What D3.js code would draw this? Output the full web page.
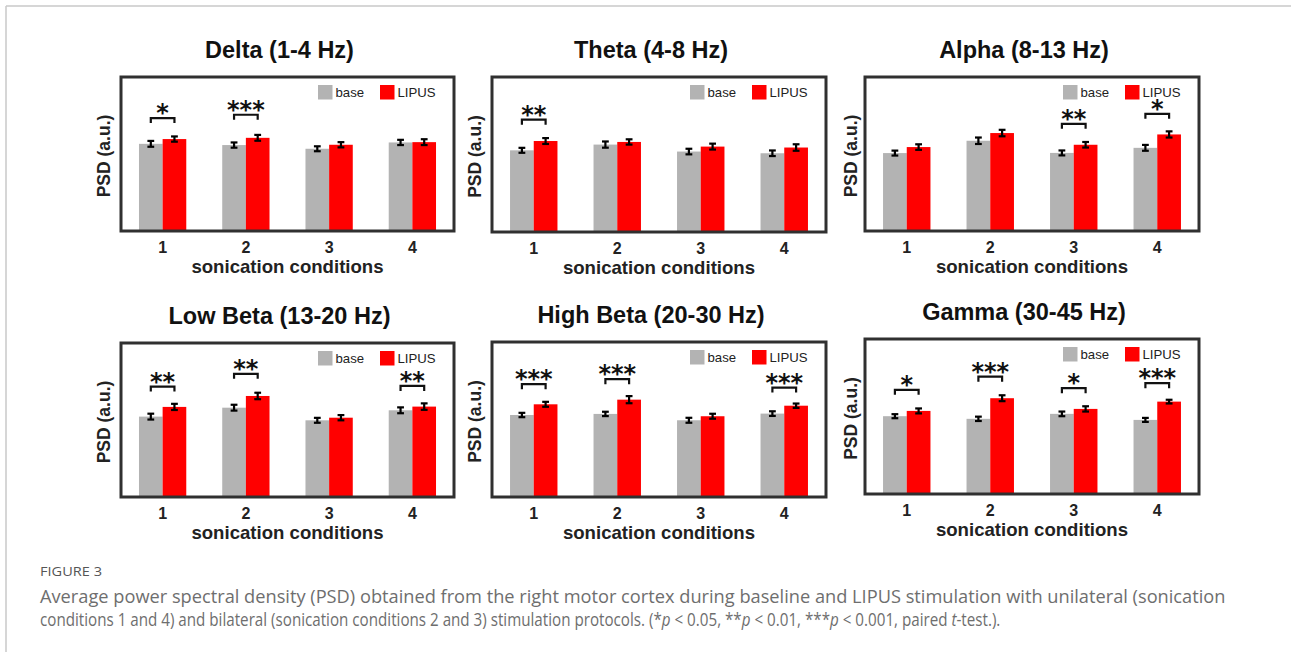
<!DOCTYPE html>
<html>
<head>
<meta charset="utf-8">
<script src="https://cdn.jsdelivr.net/npm/d3@7"></script>
<style>
  html, body { margin: 0; padding: 0; background: #fff; }
  svg { display: block; }
</style>
</head>
<body>
<svg id="fig" width="1291" height="652"></svg>
<script>
// ---- data -------------------------------------------------------------
const conditions = ["1", "2", "3", "4"];
const seriesNames = ["base", "LIPUS"];
const bandTitles = ["Delta (1-4 Hz)", "Theta (4-8 Hz)", "Alpha (8-13 Hz)",
                    "Low Beta (13-20 Hz)", "High Beta (20-30 Hz)", "Gamma (30-45 Hz)"];

// mean PSD (a.u.) per sonication condition
const baseMean = [
  [0.566, 0.558, 0.534, 0.575],
  [0.527, 0.564, 0.519, 0.508],
  [0.506, 0.586, 0.507, 0.540],
  [0.522, 0.580, 0.498, 0.563],
  [0.529, 0.536, 0.495, 0.538],
  [0.502, 0.485, 0.517, 0.478]
];
const lipusMean = [
  [0.597, 0.605, 0.560, 0.577],
  [0.587, 0.581, 0.551, 0.545],
  [0.545, 0.636, 0.560, 0.627],
  [0.585, 0.656, 0.515, 0.587],
  [0.598, 0.628, 0.521, 0.589],
  [0.536, 0.618, 0.549, 0.596]
];
// standard error of the mean
const baseErr = [
  [0.019, 0.017, 0.016, 0.017],
  [0.016, 0.020, 0.018, 0.018],
  [0.016, 0.021, 0.016, 0.019],
  [0.019, 0.019, 0.016, 0.019],
  [0.014, 0.014, 0.016, 0.015],
  [0.013, 0.014, 0.015, 0.013]
];
const lipusErr = [
  [0.017, 0.019, 0.017, 0.019],
  [0.019, 0.017, 0.019, 0.021],
  [0.018, 0.021, 0.018, 0.020],
  [0.020, 0.021, 0.017, 0.021],
  [0.016, 0.023, 0.016, 0.014],
  [0.016, 0.019, 0.017, 0.012]
];
// paired t-test significance marks and the level of their brackets (a.u.)
const sigMarks = [
  ["*", "***", "", ""],
  ["**", "", "", ""],
  ["", "", "**", "*"],
  ["**", "**", "", "**"],
  ["***", "***", "", "***"],
  ["*", "***", "*", "***"]
];
const sigLevel = [
  [0.733, 0.755, 0, 0],
  [0.725, 0, 0, 0],
  [0, 0, 0.696, 0.761],
  [0.717, 0.800, 0, 0.721],
  [0.728, 0.760, 0, 0.706],
  [0.672, 0.757, 0.683, 0.715]
];
const yDomain = [0, 1];
const xLabel = "sonication conditions";
const yLabel = "PSD (a.u.)";

// ---- layout ------------------------------------------------------------
const panels = [
  { x0: 121, x1: 454, y0: 77,  y1: 231, ylab: 110 },
  { x0: 492, x1: 826, y0: 77,  y1: 232, ylab: 481 },
  { x0: 865, x1: 1199, y0: 77, y1: 231, ylab: 857 },
  { x0: 121, x1: 454, y0: 343, y1: 497, ylab: 110 },
  { x0: 492, x1: 826, y0: 342, y1: 497, ylab: 481 },
  { x0: 865, x1: 1199, y0: 339, y1: 494, ylab: 857 }
];
const colors = { base: "#b3b3b3", LIPUS: "#ff0000" };
const boldFont = "'Liberation Sans', Arial, Helvetica, sans-serif";
const starFont = "'DejaVu Sans', sans-serif";
const ink = "#222";

const svg = d3.select("#fig");

// page frame
svg.append("line").attr("x1", 6).attr("y1", 6).attr("x2", 1291).attr("y2", 6)
  .attr("stroke", "#c8c8c8").attr("stroke-width", 1.5);
svg.append("line").attr("x1", 6).attr("y1", 6).attr("x2", 6).attr("y2", 652)
  .attr("stroke", "#c8c8c8").attr("stroke-width", 1.5);

panels.forEach((p, i) => {
  const g = svg.append("g");
  const x = d3.scaleBand().domain(conditions).range([p.x0, p.x1])
    .paddingInner(0.432).paddingOuter(0.216);
  const xs = d3.scaleBand().domain(seriesNames).range([0, x.bandwidth()]);
  const y = d3.scaleLinear().domain(yDomain).range([p.y1, p.y0]);

  const rows = conditions.map((c, j) => ({
    cond: c,
    vals: [
      { s: "base", m: baseMean[i][j], e: baseErr[i][j] },
      { s: "LIPUS", m: lipusMean[i][j], e: lipusErr[i][j] }
    ],
    mark: sigMarks[i][j],
    level: sigLevel[i][j]
  }));

  // bars
  const grp = g.selectAll("g.grp").data(rows).join("g")
    .attr("transform", d => `translate(${x(d.cond)},0)`);
  grp.selectAll("rect").data(d => d.vals).join("rect")
    .attr("x", d => xs(d.s))
    .attr("y", d => y(d.m))
    .attr("width", xs.bandwidth())
    .attr("height", d => y(yDomain[0]) - y(d.m))
    .attr("fill", d => colors[d.s]);

  // error bars
  const cap = 3.4;
  const eb = grp.selectAll("g.eb").data(d => d.vals).join("g")
    .attr("stroke", "#000").attr("stroke-width", 2.2);
  eb.append("line")
    .attr("x1", d => xs(d.s) + xs.bandwidth() / 2).attr("x2", d => xs(d.s) + xs.bandwidth() / 2)
    .attr("y1", d => y(d.m - d.e)).attr("y2", d => y(d.m + d.e));
  eb.append("line")
    .attr("x1", d => xs(d.s) + xs.bandwidth() / 2 - cap).attr("x2", d => xs(d.s) + xs.bandwidth() / 2 + cap)
    .attr("y1", d => y(d.m + d.e)).attr("y2", d => y(d.m + d.e));
  eb.append("line")
    .attr("x1", d => xs(d.s) + xs.bandwidth() / 2 - cap).attr("x2", d => xs(d.s) + xs.bandwidth() / 2 + cap)
    .attr("y1", d => y(d.m - d.e)).attr("y2", d => y(d.m - d.e));

  // significance brackets
  const sig = grp.filter(d => d.mark !== "");
  const xa = xs("base") + xs.bandwidth() / 2;
  const xb = xs("LIPUS") + xs.bandwidth() / 2;
  sig.append("path")
    .attr("d", d => `M${xa},${y(d.level) + 5}V${y(d.level)}H${xb}V${y(d.level) + 5}`)
    .attr("fill", "none").attr("stroke", "#111").attr("stroke-width", 2.2);
  sig.append("text")
    .attr("x", x.bandwidth() / 2)
    .attr("y", d => y(d.level) + 3)
    .attr("text-anchor", "middle")
    .style("font-family", starFont).style("font-size", "24px").style("font-weight", "bold")
    .attr("fill", "#111")
    .text(d => d.mark);

  // axes frame
  g.append("rect")
    .attr("x", p.x0).attr("y", p.y0)
    .attr("width", p.x1 - p.x0).attr("height", p.y1 - p.y0)
    .attr("fill", "none").attr("stroke", "#303030").attr("stroke-width", 3);

  // x tick labels
  const ax = g.append("g").attr("transform", `translate(0,${p.y1})`)
    .call(d3.axisBottom(x).tickSize(0).tickPadding(8));
  ax.select(".domain").remove();
  ax.selectAll("text")
    .style("font-family", boldFont).style("font-size", "16px").style("font-weight", "bold")
    .attr("fill", ink).attr("dy", null).attr("y", 21.5);

  // axis labels and title
  const cx = (p.x0 + p.x1) / 2;
  g.append("text").attr("x", cx).attr("y", p.y1 + 41.5)
    .attr("text-anchor", "middle")
    .style("font-family", boldFont).style("font-size", "18.6px").style("font-weight", "bold")
    .attr("fill", ink)
    .text(xLabel);
  g.append("text")
    .attr("transform", `translate(${p.ylab},${(p.y0 + p.y1) / 2 + 2}) rotate(-90)`)
    .attr("text-anchor", "middle")
    .style("font-family", boldFont).style("font-size", "17.5px").style("font-weight", "bold")
    .attr("fill", ink)
    .text(yLabel);
  g.append("text").attr("x", cx - 8).attr("y", p.y0 - 19.5)
    .attr("text-anchor", "middle")
    .style("font-family", boldFont).style("font-size", "23.5px").style("font-weight", "bold")
    .attr("fill", "#111")
    .text(bandTitles[i]);

  // legend
  const lg = g.append("g").attr("transform", `translate(${p.x1},${p.y0 + 8})`);
  const items = [{ s: "base", dx: -136 }, { s: "LIPUS", dx: -74 }];
  items.forEach(it => {
    lg.append("rect").attr("x", it.dx).attr("y", 0)
      .attr("width", 14.5).attr("height", 14.5).attr("fill", colors[it.s]);
    lg.append("text").attr("x", it.dx + 17.5).attr("y", 12)
      .style("font-family", boldFont).style("font-size", "13.2px")
      .attr("fill", "#222")
      .text(it.s);
  });
});

// caption, squeezed horizontally to the narrow journal typeface
const capFont = "'Open Sans', 'Noto Sans', sans-serif";
function captionLine(x0, y0, size, color, width, parts) {
  const gl = svg.append("g");
  const t = gl.append("text").attr("x", 0).attr("y", 0)
    .style("font-family", capFont).style("font-size", size + "px")
    .attr("fill", color);
  parts.forEach(([s, it]) => {
    t.append("tspan").style("font-style", it ? "italic" : "normal").text(s);
  });
  const natural = t.node().getComputedTextLength();
  gl.attr("transform", `translate(${x0},${y0}) scale(${width / natural},1)`);
}
captionLine(40, 576, 13, "#555", 62, [["FIGURE 3", false]]);
captionLine(40, 603, 19, "#6e6e6e", 1186, [
  ["Average power spectral density (PSD) obtained from the right motor cortex during baseline and LIPUS stimulation with unilateral (sonication", false]
]);
captionLine(40, 626, 19, "#6e6e6e", 961, [
  ["conditions 1 and 4) and bilateral (sonication conditions 2 and 3) stimulation protocols. (*", false],
  ["p", true], [" < 0.05, **", false], ["p", true], [" < 0.01, ***", false], ["p", true],
  [" < 0.001, paired ", false], ["t", true], ["-test.).", false]
]);
</script>
</body>
</html>
